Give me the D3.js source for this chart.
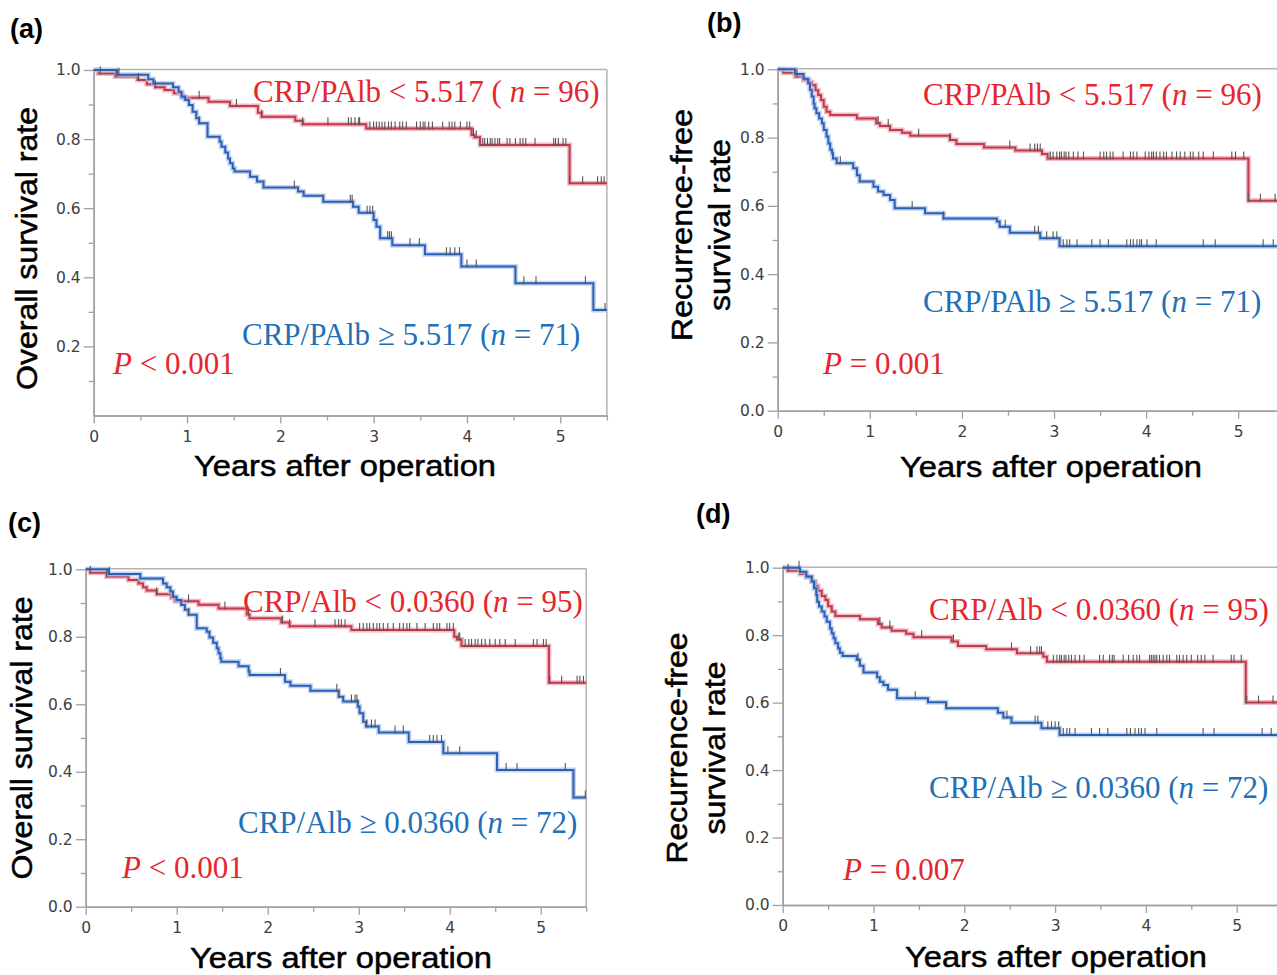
<!DOCTYPE html>
<html><head><meta charset="utf-8">
<script src="https://cdn.jsdelivr.net/npm/d3@7"></script>
<style>body{margin:0;background:#fff;}svg{display:block}</style>
</head><body>
<svg id="chart" width="1277" height="975"></svg>
<script>
// ---------- DATA ----------
// step times (years) and survival after each drop; censor times
const aRedT = [0.05,0.23,0.47,0.57,0.66,0.76,0.86,0.95,1.23,1.46,1.76,1.80,2.16,2.24,2.92,4.05,4.08,4.14,5.10];
const aRedS = [0.990,0.981,0.971,0.959,0.950,0.942,0.933,0.920,0.908,0.896,0.876,0.865,0.853,0.843,0.831,0.812,0.805,0.783,0.672];
const aRedC = [0.07,0.24,0.48,0.66,1.13,1.53,1.80,2.24,2.51,2.73,2.76,2.80,2.84,2.85,2.96,3.00,3.03,3.06,3.09,3.12,3.16,3.19,3.23,3.28,3.31,3.35,3.46,3.50,3.53,3.55,3.59,3.63,3.74,3.81,3.84,3.87,3.93,4.00,4.03,4.07,4.10,4.17,4.19,4.22,4.25,4.27,4.30,4.33,4.35,4.43,4.46,4.52,4.57,4.60,4.63,4.73,4.93,4.95,4.98,5.03,5.06,5.10,5.24,5.40,5.44,5.47];
const aBlueT = [0.25,0.585,0.64,0.85,0.91,0.94,0.98,1.02,1.06,1.10,1.13,1.22,1.35,1.37,1.41,1.44,1.46,1.49,1.51,1.675,1.75,1.82,2.19,2.25,2.46,2.78,2.84,3.00,3.03,3.07,3.20,3.55,3.94,4.52,5.355];
const aBlueS = [0.986,0.973,0.961,0.950,0.937,0.923,0.913,0.899,0.879,0.860,0.846,0.807,0.792,0.778,0.761,0.744,0.730,0.715,0.706,0.691,0.677,0.660,0.648,0.636,0.619,0.604,0.587,0.566,0.546,0.513,0.493,0.467,0.431,0.383,0.305];
const aBlueC = [0.27,1.13,2.15,2.75,2.77,2.93,2.96,2.99,3.15,3.17,3.19,3.39,3.49,3.78,3.82,3.87,3.92,4.00,4.10,4.61,4.74,5.27,5.48];

const bRedT = [0.06,0.19,0.28,0.34,0.37,0.41,0.44,0.47,0.50,0.53,0.57,0.86,1.07,1.11,1.22,1.35,1.44,1.87,1.94,2.24,2.58,2.87,2.93,5.11];
const bRedS = [0.990,0.979,0.969,0.962,0.954,0.939,0.925,0.910,0.890,0.876,0.866,0.856,0.842,0.834,0.822,0.814,0.805,0.793,0.781,0.771,0.762,0.752,0.739,0.615];
const bRedC = [0.21,1.09,1.20,1.53,1.87,2.52,2.74,2.79,2.82,2.85,2.96,2.99,3.03,3.06,3.08,3.11,3.13,3.16,3.21,3.26,3.32,3.50,3.54,3.57,3.61,3.64,3.75,3.83,3.86,3.90,3.99,4.03,4.06,4.08,4.11,4.15,4.19,4.22,4.28,4.33,4.37,4.42,4.48,4.51,4.57,4.62,4.73,4.93,4.97,5.06,5.11,5.24,5.40];
const bBlueT = [0.19,0.28,0.33,0.35,0.37,0.39,0.40,0.42,0.45,0.48,0.50,0.53,0.55,0.57,0.59,0.60,0.64,0.82,0.86,0.89,1.04,1.09,1.15,1.22,1.27,1.60,1.80,2.38,2.41,2.52,2.85,3.06];
const bBlueS = [0.986,0.972,0.959,0.940,0.920,0.900,0.886,0.871,0.856,0.842,0.822,0.803,0.783,0.764,0.754,0.739,0.725,0.710,0.690,0.671,0.656,0.642,0.632,0.617,0.593,0.578,0.563,0.554,0.539,0.521,0.505,0.482];
const bBlueC = [0.68,1.46,1.80,2.47,2.79,2.83,2.92,2.99,3.03,3.10,3.14,3.17,3.25,3.41,3.50,3.59,3.79,3.83,3.86,3.90,3.93,3.95,4.01,4.11,4.62,4.75,5.27,5.38];

const cRedT = [0.05,0.23,0.47,0.58,0.63,0.67,0.78,0.94,0.98,1.24,1.46,1.77,1.80,2.15,2.24,2.92,4.05,4.08,4.13,5.09];
const cRedS = [0.990,0.979,0.968,0.958,0.947,0.937,0.926,0.916,0.905,0.895,0.884,0.866,0.855,0.842,0.831,0.820,0.800,0.792,0.773,0.664];
const cRedC = [0.05,0.23,0.78,1.13,1.53,1.79,2.16,2.24,2.52,2.74,2.78,2.81,2.85,3.01,3.05,3.09,3.12,3.16,3.20,3.23,3.27,3.32,3.38,3.45,3.49,3.53,3.56,3.64,3.73,3.82,3.86,3.89,3.97,4.00,4.04,4.10,4.11,4.17,4.21,4.24,4.28,4.31,4.35,4.39,4.44,4.50,4.55,4.61,4.72,4.92,4.96,5.03,5.06,5.10,5.23,5.40,5.43,5.47];
const cBlueT = [0.25,0.60,0.85,0.89,0.93,0.96,1.00,1.05,1.09,1.13,1.22,1.33,1.36,1.40,1.44,1.46,1.48,1.49,1.68,1.79,1.80,2.19,2.25,2.47,2.78,2.83,2.99,3.01,3.05,3.08,3.22,3.55,3.93,4.52,5.36];
const cBlueS = [0.986,0.973,0.958,0.947,0.934,0.919,0.909,0.894,0.880,0.865,0.825,0.815,0.798,0.782,0.766,0.751,0.736,0.726,0.713,0.697,0.687,0.667,0.655,0.640,0.622,0.608,0.593,0.573,0.548,0.534,0.516,0.488,0.455,0.405,0.324];
const cBlueC = [0.26,1.13,2.14,2.76,2.78,2.92,2.96,2.98,2.99,3.09,3.14,3.18,3.40,3.49,3.78,3.82,3.86,3.91,3.98,4.11,4.62,4.74,5.27,5.49];

const dRedT = [0.055,0.19,0.26,0.32,0.36,0.39,0.43,0.47,0.50,0.54,0.58,0.85,1.05,1.09,1.20,1.36,1.44,1.86,1.93,2.24,2.58,2.87,2.91,5.10];
const dRedS = [0.991,0.981,0.972,0.959,0.946,0.932,0.916,0.904,0.886,0.870,0.857,0.847,0.833,0.823,0.813,0.804,0.794,0.781,0.768,0.758,0.746,0.736,0.721,0.600];
const dRedC = [0.06,1.07,1.18,1.53,1.88,2.52,2.73,2.80,2.83,2.85,2.98,3.02,3.05,3.07,3.10,3.12,3.15,3.18,3.22,3.27,3.32,3.49,3.53,3.60,3.63,3.65,3.75,3.81,3.86,3.90,3.93,4.04,4.06,4.08,4.10,4.12,4.15,4.19,4.23,4.26,4.34,4.37,4.41,4.45,4.50,4.57,4.61,4.65,4.74,4.94,4.97,5.05,5.11,5.24,5.40];
const dBlueT = [0.19,0.26,0.32,0.345,0.37,0.38,0.40,0.43,0.46,0.485,0.52,0.54,0.56,0.58,0.61,0.63,0.66,0.815,0.85,0.89,1.04,1.07,1.11,1.16,1.26,1.60,1.80,2.37,2.43,2.52,2.85,3.05];
const dBlueS = [0.988,0.974,0.959,0.939,0.919,0.899,0.885,0.870,0.855,0.840,0.820,0.806,0.791,0.776,0.761,0.748,0.738,0.727,0.709,0.689,0.675,0.662,0.652,0.638,0.613,0.601,0.583,0.570,0.556,0.540,0.524,0.504];
const dBlueC = [0.18,0.83,1.46,1.80,2.47,2.78,2.81,2.92,2.96,3.00,3.04,3.09,3.13,3.16,3.22,3.40,3.49,3.58,3.79,3.83,3.88,3.92,3.95,3.99,4.12,4.63,4.75,5.28,5.38];

const xTickValues = [0,1,2,3,4,5];
const xMinorValues = [0.5,1.5,2.5,3.5,4.5,5.5];
const yTickValues = [0,0.2,0.4,0.6,0.8,1.0];
const yMinorValues = [0.1,0.3,0.5,0.7,0.9];
const xDomainEnd = 5.5;

const panelLetters = ["(a)","(b)","(c)","(d)"];
const yTitles = [["Overall survival rate"],["Recurrence-free","survival rate"],["Overall survival rate"],["Recurrence-free","survival rate"]];
const xTitle = "Years after operation";
const redLabels = [["CRP/PAlb < 5.517 ( ","n"," = 96)"],["CRP/PAlb < 5.517 (","n"," = 96)"],["CRP/Alb < 0.0360 (","n"," = 95)"],["CRP/Alb < 0.0360 (","n"," = 95)"]];
const blueLabels = [["CRP/PAlb \u2265 5.517 (","n"," = 71)"],["CRP/PAlb \u2265 5.517 (","n"," = 71)"],["CRP/Alb \u2265 0.0360 (","n"," = 72)"],["CRP/Alb \u2265 0.0360 (","n"," = 72)"]];
const pLabels = [" < 0.001"," = 0.001"," < 0.001"," = 0.007"];

// ---------- LAYOUT ----------
const layout = [
 {left:93.7, right:606.9, top:70, bot:415.5, zeroLabel:false,
  lab:[10,38], yt:{base:[37],cy:248.5,len:[283]}, xt:{cx:345,base:476},
  red:[253,102], blue:[242,345], p:[113,374]},
 {left:777.7, right:1284.3, top:69.3, bot:410.7, zeroLabel:true,
  lab:[707,32], yt:{base:[692,730],cy:225,len:[232,172]}, xt:{cx:1051,base:477},
  red:[923,105], blue:[923,312], p:[823,374]},
 {left:85.7, right:586.2, top:569.3, bot:906.7, zeroLabel:true,
  lab:[8,532], yt:{base:[32],cy:738,len:[283]}, xt:{cx:341,base:968},
  red:[243,612], blue:[238,833], p:[122,878]},
 {left:782.7, right:1282.1, top:567.7, bot:905, zeroLabel:true,
  lab:[696,523], yt:{base:[687,725],cy:748,len:[231,173]}, xt:{cx:1056,base:967},
  red:[929,620], blue:[929,798], p:[843,880]}
];
const series = [
 {red:[aRedT,aRedS,aRedC], blue:[aBlueT,aBlueS,aBlueC]},
 {red:[bRedT,bRedS,bRedC], blue:[bBlueT,bBlueS,bBlueC]},
 {red:[cRedT,cRedS,cRedC], blue:[cBlueT,cBlueS,cBlueC]},
 {red:[dRedT,dRedS,dRedC], blue:[dBlueT,dBlueS,dBlueC]}
];

const RED_TEXT = "#e6262d", BLUE_TEXT = "#2170b8";
const RED_LINE = "#c23a4d", BLUE_LINE = "#2c5fb6";
const RED_HALO = "#eaa0aa", BLUE_HALO = "#a8c2ea";
const AXIS = "#a0a0a0", TICKTXT = "#3e3e3e";
const SANS = "'Liberation Sans', Arial, sans-serif";
const SERIF = "'Liberation Serif', 'Times New Roman', serif";

const svg = d3.select("#chart");

layout.forEach((L, i) => {
  const g = svg.append("g");
  const x = d3.scaleLinear().domain([0, xDomainEnd]).range([L.left, L.right]);
  const y = d3.scaleLinear().domain([0, 1]).range([L.bot, L.top]);

  // frame (top & right)
  g.append("line").attr("x1", x(0)).attr("x2", x(xDomainEnd)).attr("y1", y(1)-0.5).attr("y2", y(1)-0.5)
    .attr("stroke", "#b4b4b4").attr("stroke-width", 1.5);
  g.append("line").attr("x1", x(xDomainEnd)).attr("x2", x(xDomainEnd)).attr("y1", y(1)-0.5).attr("y2", y(0))
    .attr("stroke", "#b4b4b4").attr("stroke-width", 1.5);

  // axes
  const yMajor = d3.axisLeft(y).tickValues(L.zeroLabel ? yTickValues : yTickValues.slice(1))
    .tickSize(10).tickPadding(3).tickSizeOuter(0).tickFormat(d3.format(".1f"));
  const yMinor = d3.axisLeft(y).tickValues(yMinorValues).tickSize(5).tickSizeOuter(0).tickFormat("");
  const xMajor = d3.axisBottom(x).tickValues(xTickValues).tickSize(8).tickPadding(7).tickSizeOuter(0).tickFormat(d3.format("d"));
  const xMinor = d3.axisBottom(x).tickValues(xMinorValues).tickSize(5).tickSizeOuter(0).tickFormat("");

  const gy = g.append("g").attr("transform", `translate(${x(0)},0)`);
  gy.call(yMinor); gy.append("g").call(yMajor);
  const gx = g.append("g").attr("transform", `translate(0,${y(0)})`);
  gx.call(xMinor); gx.append("g").call(xMajor);
  [gy, gx].forEach(a => {
    a.selectAll("path.domain").attr("stroke", AXIS).attr("stroke-width", 1.5);
    a.selectAll(".tick line").attr("stroke", AXIS).attr("stroke-width", 1.3);
    a.selectAll(".tick text").attr("fill", TICKTXT).attr("font-family", "'DejaVu Sans', Verdana, sans-serif").attr("font-size", 15.5);
  });

  // curves
  const line = d3.line().x(d => x(d[0])).y(d => y(d[1])).curve(d3.curveStepAfter);
  const stepAt = (T, S, t) => { let s = 1; for (let k = 0; k < T.length; k++) { if (T[k] <= t) s = S[k]; } return s; };
  const draw = (arr, core, halo) => {
    const [T, S, C] = arr;
    const pts = [[0, 1]].concat(T.map((t, k) => [t, S[k]]));
    pts.push([xDomainEnd, S[S.length - 1]]);
    g.append("path").attr("d", line(pts)).attr("fill", "none").attr("stroke", halo)
      .attr("stroke-width", 5).attr("stroke-opacity", 0.7).attr("stroke-linejoin", "miter");
    g.append("path").attr("d", line(pts)).attr("fill", "none").attr("stroke", core)
      .attr("stroke-width", 2);
    return () => {
      g.append("g").selectAll("line").data(C).join("line")
        .attr("x1", d => x(d)).attr("x2", d => x(d))
        .attr("y1", d => y(stepAt(T, S, d)) - 7).attr("y2", d => y(stepAt(T, S, d)) + 1)
        .attr("stroke", "#555").attr("stroke-width", 1.1);
    };
  };
  const cr = draw(series[i].red, RED_LINE, RED_HALO);
  const cb = draw(series[i].blue, BLUE_LINE, BLUE_HALO);
  cr(); cb();

  // panel letter
  g.append("text").attr("x", L.lab[0]).attr("y", L.lab[1]).text(panelLetters[i])
    .attr("font-family", SANS).attr("font-weight", "bold").attr("font-size", 27).attr("fill", "#000");

  // y title
  yTitles[i].forEach((t, k) => {
    g.append("text").attr("transform", `translate(${L.yt.base[k]},${L.yt.cy}) rotate(-90)`)
      .attr("text-anchor", "middle").attr("font-family", SANS).attr("font-size", 29)
      .attr("textLength", L.yt.len[k]).attr("lengthAdjust", "spacingAndGlyphs")
      .attr("fill", "#000").attr("stroke", "#000").attr("stroke-width", 0.5).text(t);
  });
  // x title
  g.append("text").attr("x", L.xt.cx).attr("y", L.xt.base).attr("text-anchor", "middle")
    .attr("font-family", SANS).attr("font-size", 29).attr("textLength", 302).attr("lengthAdjust", "spacingAndGlyphs")
    .attr("fill", "#000").attr("stroke", "#000").attr("stroke-width", 0.5).text(xTitle);

  // annotations
  const ann = (pos, parts, color) => {
    const t = g.append("text").attr("x", pos[0]).attr("y", pos[1]).attr("font-family", SERIF)
      .attr("font-size", 31).attr("fill", color).attr("xml:space", "preserve").style("white-space", "pre");
    t.append("tspan").text(parts[0]);
    t.append("tspan").attr("font-style", "italic").text(parts[1]);
    t.append("tspan").text(parts[2]);
  };
  ann(L.red, redLabels[i], RED_TEXT);
  ann(L.blue, blueLabels[i], BLUE_TEXT);
  ann(L.p, ["", "P", pLabels[i]], RED_TEXT);
});
</script>
</body></html>
